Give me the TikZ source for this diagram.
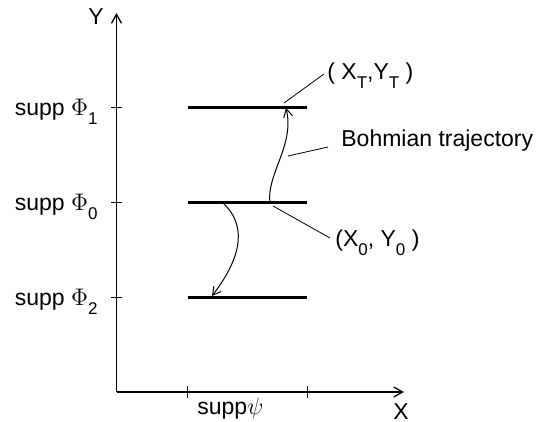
\documentclass[tikz,border=0pt]{standalone}
\usepackage{fontspec}
\setmainfont{Liberation Sans}
\usetikzlibrary{arrows.meta,positioning}
\newcommand{\lo}[1]{\raisebox{-4.5pt}{\fontsize{8.5}{9}\selectfont #1}}
\tikzset{
  ax/.style  ={line width=0.65pt,-{Straight Barb[length=4.5pt,width=5pt]}},
  lvl/.style ={line width=1.5pt},
  tck/.style ={line width=0.5pt},
  traj/.style={line width=0.5pt,-{Straight Barb[length=4pt,width=4.5pt]}},
  lead/.style={line width=0.4pt},
  lbl/.style ={inner sep=0pt,font=\fontsize{11.5}{13}\selectfont},
}
\begin{document}
\begin{tikzpicture}[x=0.5pt,y=-0.5pt]
  \useasboundingbox (0,0) rectangle (537,422);
  % axes
  \coordinate (O) at (116.5,392);
  \coordinate (ytip) at (116.5,13);
  \coordinate (xtip) at (404,392);
  \draw[ax] (O) -- (ytip);
  \draw[ax] (O) -- (xtip);
  \node[lbl,anchor=base] (ylab) at (96,25) {Y};
  \node[lbl,anchor=base] (xlab) at (401,420) {X};
  % support of psi
  \foreach \x in {187.5,307}
    \draw[tck] (\x,386) -- (\x,398);
  \node[lbl,anchor=base west] (spsi) at (197,415) {supp$\psi$};
  % levels
  \foreach \y/\k in {108/1,203/0,298/2}{
    \coordinate (L\k w) at (188,\y);
    \coordinate (L\k e) at (307,\y);
    \draw[lvl] (L\k w) -- (L\k e);
    \draw[tck] (111,\y) -- (122,\y);
    \node[lbl,anchor=base east] (s\k) at (98,\y+8) {supp $\Phi$\lo{\k}};
  }
  % trajectories
  \coordinate (P0) at (270,203);
  \coordinate (PT) at (286,108);
  \draw[traj] (P0) .. controls (266,175) and (295,145) .. (PT);
  \coordinate (Q0) at (223,203);
  \coordinate (Q1) at (212,296);
  \draw[traj] (Q0) .. controls (250,228) and (238,262) .. (Q1);
  % labels
  \node[lbl,anchor=base west] (xt) at (327,80) {( X\lo{T},Y\lo{T} )};
  \node[lbl,anchor=base west] (bt) at (341,147) {Bohmian trajectory};
  \node[lbl,anchor=base west] (x0) at (335,247) {(X\lo{0}, Y\lo{0} )};
  \coordinate (xtl) at (324,74);
  \coordinate (btl) at (328,147);
  \coordinate (x0l) at (330,238);
  \draw[lead] (284,103) -- (xtl);
  \draw[lead] (288,156) -- (btl);
  \draw[lead] (273,206) -- (x0l);
\end{tikzpicture}
\end{document}
